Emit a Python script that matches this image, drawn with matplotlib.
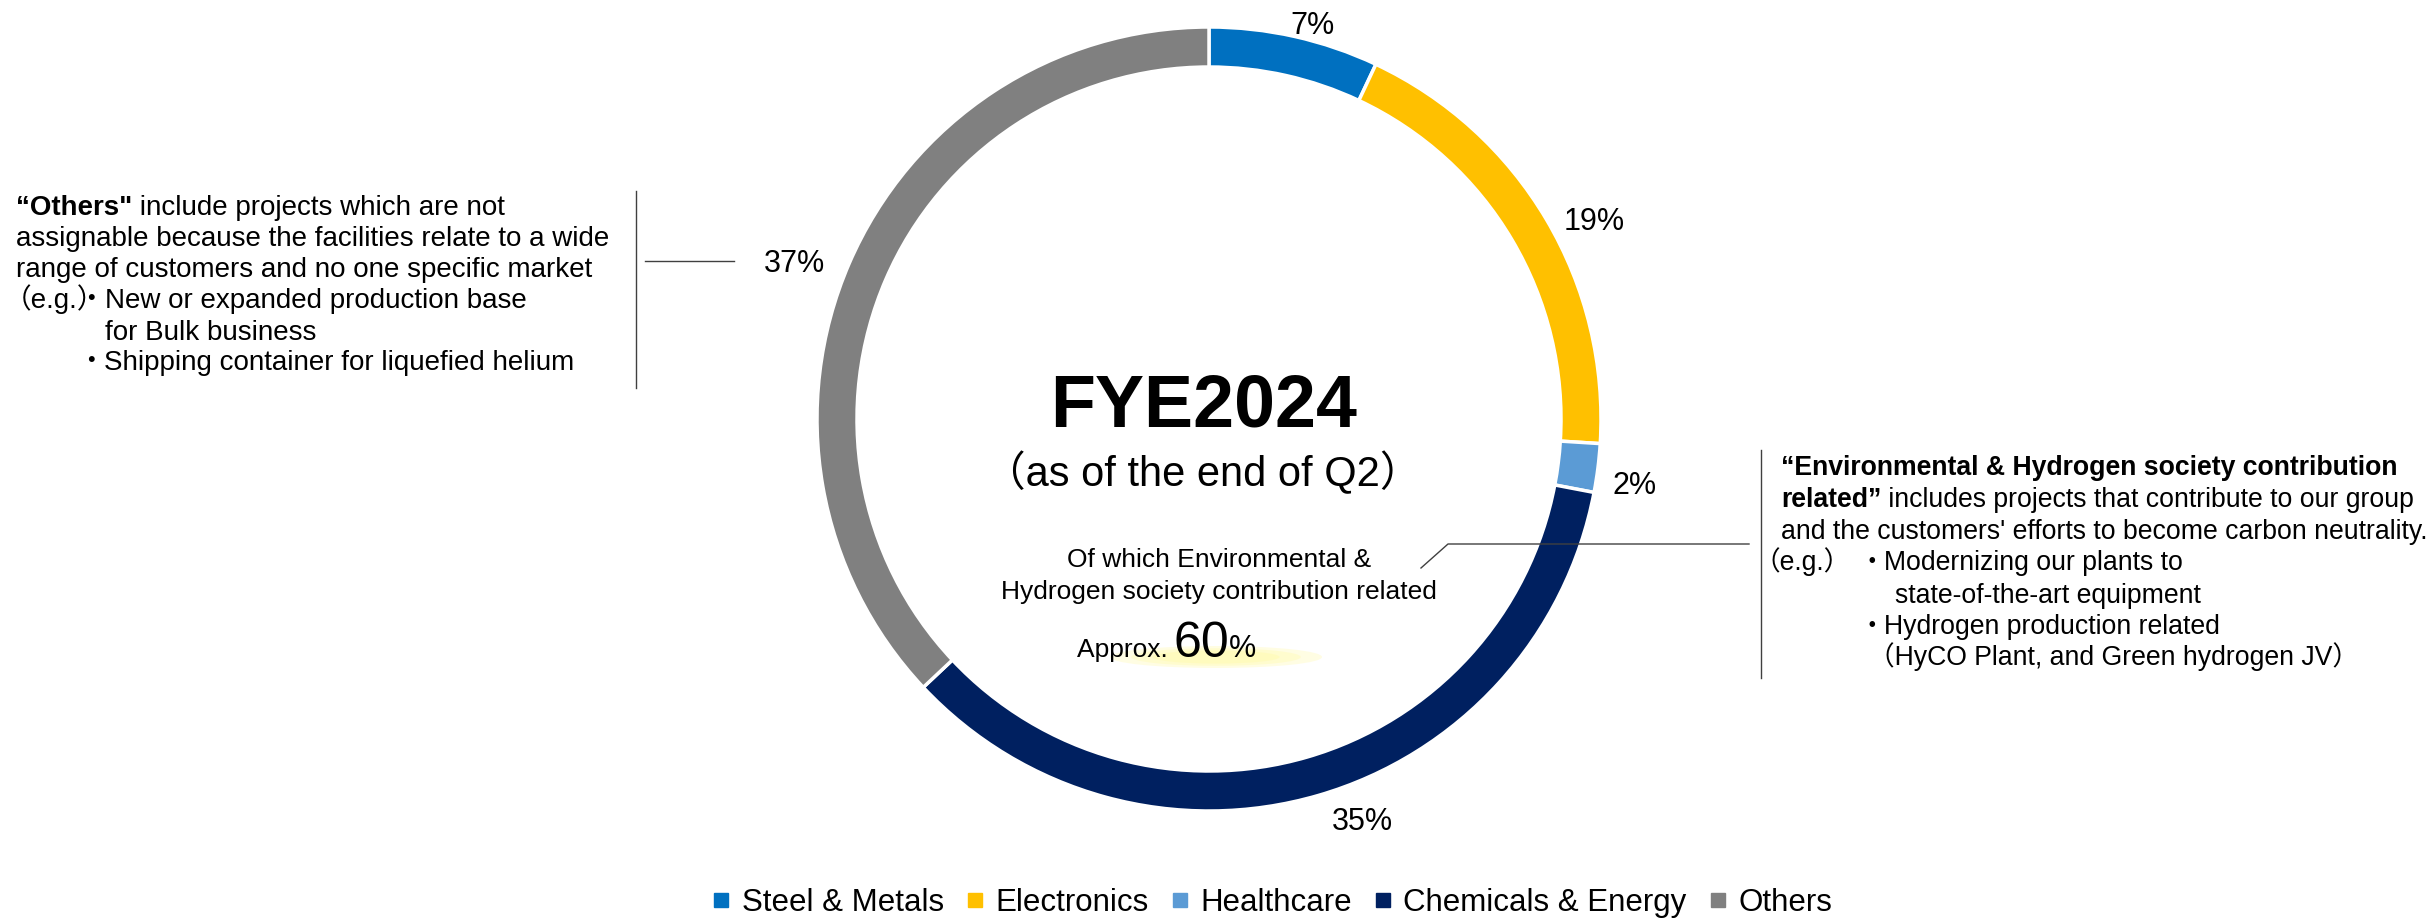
import matplotlib
matplotlib.use("Agg")
import matplotlib.pyplot as plt
import matplotlib.patches
import matplotlib.lines
import numpy

# Data
categories = ["Steel & Metals", "Electronics", "Healthcare", "Chemicals & Energy", "Others"]
shares = [7, 19, 2, 35, 37]
colors = ["#0070C0", "#FFC000", "#5B9BD5", "#002060", "#808080"]
pct_labels = ["7%", "19%", "2%", "35%", "37%"]

title = "FYE2024"
subtitle = "（as of the end of Q2）"
env_note = ["Of which Environmental &", "Hydrogen society contribution related"]
env_share = "60"

plt.rcParams["font.family"] = ["Liberation Sans", "Noto Sans CJK JP", "DejaVu Sans"]

W, H = 2433, 921
fig = plt.figure(figsize=(W / 100, H / 100), dpi=100)
ax = fig.add_axes([0, 0, 1, 1])
renderer = fig.canvas.get_renderer()


# Convert image y (down) to axes y (up).
def Y(y):
	return H - y


# Font size that makes a string a given pixel width.
def fit_size(s, width, bold=False):
	t = ax.text(0, 0, s, fontsize=20, fontweight="bold" if bold else "normal")
	w = t.get_window_extent(renderer).width
	t.remove()
	return 20 * width / w


# Draw a line of text made of (string, bold) runs, starting at x, on a baseline.
def text_runs(x, y, runs, size):
	for s, bold in runs:
		t = ax.text(x, Y(y), s, fontsize=size, fontweight="bold" if bold else "normal",
				ha="left", va="baseline")
		x += t.get_window_extent(renderer).width


# Donut
cx, cy, R = 1209, 419, 392
wedges, _ = ax.pie(shares, colors=colors, startangle=90, counterclock=False,
		radius=R, center=(cx, Y(cy)),
		wedgeprops=dict(width=40, edgecolor="white", linewidth=2.5))

ax.set_xlim(0, W)
ax.set_ylim(0, H)
ax.set_aspect("equal")
ax.axis("off")

# Percent labels around the ring
label_dist = [1.036, 1.103, 1.10, 1.10, 1.13]
label_turn = [-2.1, -3.5, -1.7, 4.6, 2.9]
for w, lab, d, turn in zip(wedges, pct_labels, label_dist, label_turn):
	ang = numpy.deg2rad((w.theta1 + w.theta2) / 2 + turn)
	ax.text(cx + R * d * numpy.cos(ang), Y(cy) + R * d * numpy.sin(ang), lab,
			fontsize=22, ha="center", va="center")

# Centre text
ax.text(1204, Y(407), title, fontsize=53, fontweight="bold", ha="center", va="center")
ax.text(1203, Y(473), subtitle, fontsize=30, ha="center", va="center")
ax.text(1219, Y(567), env_note[0], fontsize=19, ha="center", va="baseline")
ax.text(1219, Y(599), env_note[1], fontsize=19, ha="center", va="baseline")

# Soft highlight under the 60%
for k, a in zip([1.0, 0.8, 0.6], [0.35, 0.4, 0.5]):
	ax.add_patch(matplotlib.patches.Ellipse((1216, Y(657)), 212 * k, 22 * k,
			color="#FFFBB0", alpha=a, lw=0, zorder=1))
ax.text(1077, Y(657), "Approx. ", fontsize=19, ha="left", va="baseline", zorder=3)
t = ax.text(1173, Y(657), env_share, fontsize=36, ha="left", va="baseline", zorder=3)
x60 = 1173 + t.get_window_extent(renderer).width
ax.text(x60, Y(657), "%", fontsize=22, ha="left", va="baseline", zorder=3)

# Left annotation ("Others")
left_size = fit_size("assignable because the facilities relate to a wide", 592)
ax.plot([636, 636], [Y(191), Y(388)], color="#404040", lw=1)
ax.plot([645, 734], [Y(261), Y(261)], color="#404040", lw=1)
text_runs(16, 215, [("“Others\"", True), (" include projects which are not", False)], left_size)
text_runs(16, 246, [("assignable because the facilities relate to a wide", False)], left_size)
text_runs(16, 277, [("range of customers and no one specific market", False)], left_size)
text_runs(4, 308, [("（e.g.）", False)], left_size)
ax.text(91, Y(308), "・", fontsize=left_size, ha="center", va="baseline")
text_runs(105, 308, [("New or expanded production base", False)], left_size)
text_runs(105, 340, [("for Bulk business", False)], left_size)
ax.text(91, Y(370), "・", fontsize=left_size, ha="center", va="baseline")
text_runs(104, 370, [("Shipping container for liquefied helium", False)], left_size)

# Right annotation (Environmental & Hydrogen)
right_size = fit_size("and the customers' efforts to become carbon neutrality.", 646)
ax.plot([1421, 1448, 1749], [Y(568), Y(544), Y(544)], color="#404040", lw=1)
ax.plot([1761, 1761], [Y(450), Y(678)], color="#404040", lw=1)
text_runs(1781, 475, [("“Environmental & Hydrogen society contribution", True)], right_size)
text_runs(1781, 507, [("related”", True), (" includes projects that contribute to our group", False)], right_size)
text_runs(1781, 539, [("and the customers' efforts to become carbon neutrality.", False)], right_size)
text_runs(1753, 570, [("（e.g.）", False)], right_size)
ax.text(1872, Y(570), "・", fontsize=right_size, ha="center", va="baseline")
text_runs(1884, 570, [("Modernizing our plants to", False)], right_size)
text_runs(1895, 603, [("state-of-the-art equipment", False)], right_size)
ax.text(1872, Y(634), "・", fontsize=right_size, ha="center", va="baseline")
text_runs(1884, 634, [("Hydrogen production related", False)], right_size)
text_runs(1868, 665, [("（HyCO Plant, and Green hydrogen JV）", False)], right_size)

# Legend
handles = [matplotlib.lines.Line2D([], [], marker="s", linestyle="none", markersize=10,
		markerfacecolor=c, markeredgecolor=c) for c in colors]
fig.legend(handles, categories, loc="center", bbox_to_anchor=(1272 / W, 1 - 903 / H), ncol=5,
		frameon=False, fontsize=22.5, handlelength=0.6, handletextpad=0.35,
		columnspacing=0.7, borderaxespad=0)

fig.savefig("out.png", dpi=100)
